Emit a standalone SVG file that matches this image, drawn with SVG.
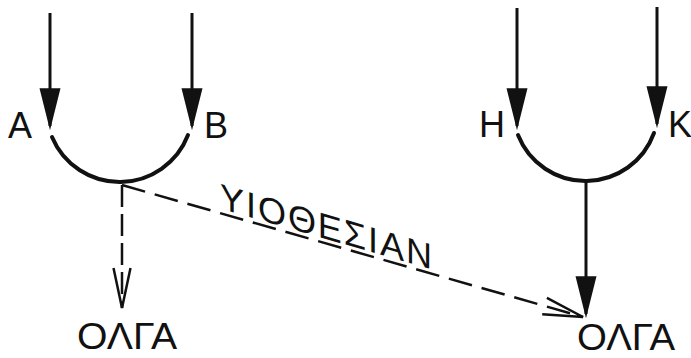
<svg xmlns="http://www.w3.org/2000/svg" width="691" height="358" viewBox="0 0 691 358">
  <style>
    .lbl { font-family: "Liberation Sans", Arial, sans-serif; font-size: 36px; fill: #111; }
    .shaft { stroke: #111; stroke-width: 3; fill: none; }
    .arc { stroke: #111; stroke-width: 4; fill: none; stroke-linecap: round; }
    .dash { stroke: #111; stroke-width: 2.5; fill: none; }
    .dv { stroke-dasharray: 22 7; }
    .dd { stroke-dasharray: 24 10; }
  </style>
  <defs>
    <marker id="solid" markerUnits="userSpaceOnUse" markerWidth="42" markerHeight="22" viewBox="0 0 40 20" refX="36" refY="10" orient="auto">
      <path d="M0,0 L40,10 L0,20 Z" fill="#111"/>
    </marker>
    <marker id="open" markerUnits="userSpaceOnUse" markerWidth="44" markerHeight="24" viewBox="-2 -12 44 24" refX="40" refY="0" orient="auto">
      <path d="M0,-8.5 L40,0 L0,8.5" fill="none" stroke="#111" stroke-width="2.5" stroke-linejoin="miter"/>
    </marker>
  </defs>
  <rect width="691" height="358" fill="#fff"/>

  <g id="connectors">
    <line class="shaft" x1="50" y1="13" x2="50" y2="126" marker-end="url(#solid)"/>
    <line class="shaft" x1="192" y1="13" x2="192" y2="126" marker-end="url(#solid)"/>
    <line class="shaft" x1="517" y1="8" x2="517" y2="126" marker-end="url(#solid)"/>
    <line class="shaft" x1="657" y1="7" x2="657" y2="124" marker-end="url(#solid)"/>
    <line class="shaft" x1="586" y1="181" x2="586" y2="314" marker-end="url(#solid)"/>
    <line class="dash dv" x1="122" y1="185" x2="122" y2="308" marker-end="url(#open)"/>
    <line class="dash dd" x1="122" y1="185" x2="583" y2="317" marker-end="url(#open)"/>
  </g>

  <g id="junction-left">
    <path class="arc" d="M52,137 A73.3,73.3 0 0 0 188,135"/>
  </g>
  <g id="junction-right">
    <path class="arc" d="M518,135 A72.7,72.7 0 0 0 654,133"/>
  </g>

  <g id="label-A"><text class="lbl" x="8" y="138">A</text></g>
  <g id="label-B"><text class="lbl" x="204" y="138">B</text></g>
  <g id="label-H"><text class="lbl" x="479" y="137">H</text></g>
  <g id="label-K"><text class="lbl" x="668" y="137">K</text></g>
  <g id="olga-left"><text class="lbl" x="77" y="349" textLength="100" lengthAdjust="spacingAndGlyphs">ΟΛΓΑ</text></g>
  <g id="olga-right"><text class="lbl" x="577" y="350" font-size="34" textLength="98" lengthAdjust="spacingAndGlyphs">ΟΛΓΑ</text></g>
  <g id="label-yiothesian">
    <text class="lbl" x="220" y="208.6" textLength="212" lengthAdjust="spacing" transform="translate(220,208.6) skewY(16) translate(-220,-208.6)">ΥΙΟΘΕΣΙΑΝ</text>
  </g>
</svg>
